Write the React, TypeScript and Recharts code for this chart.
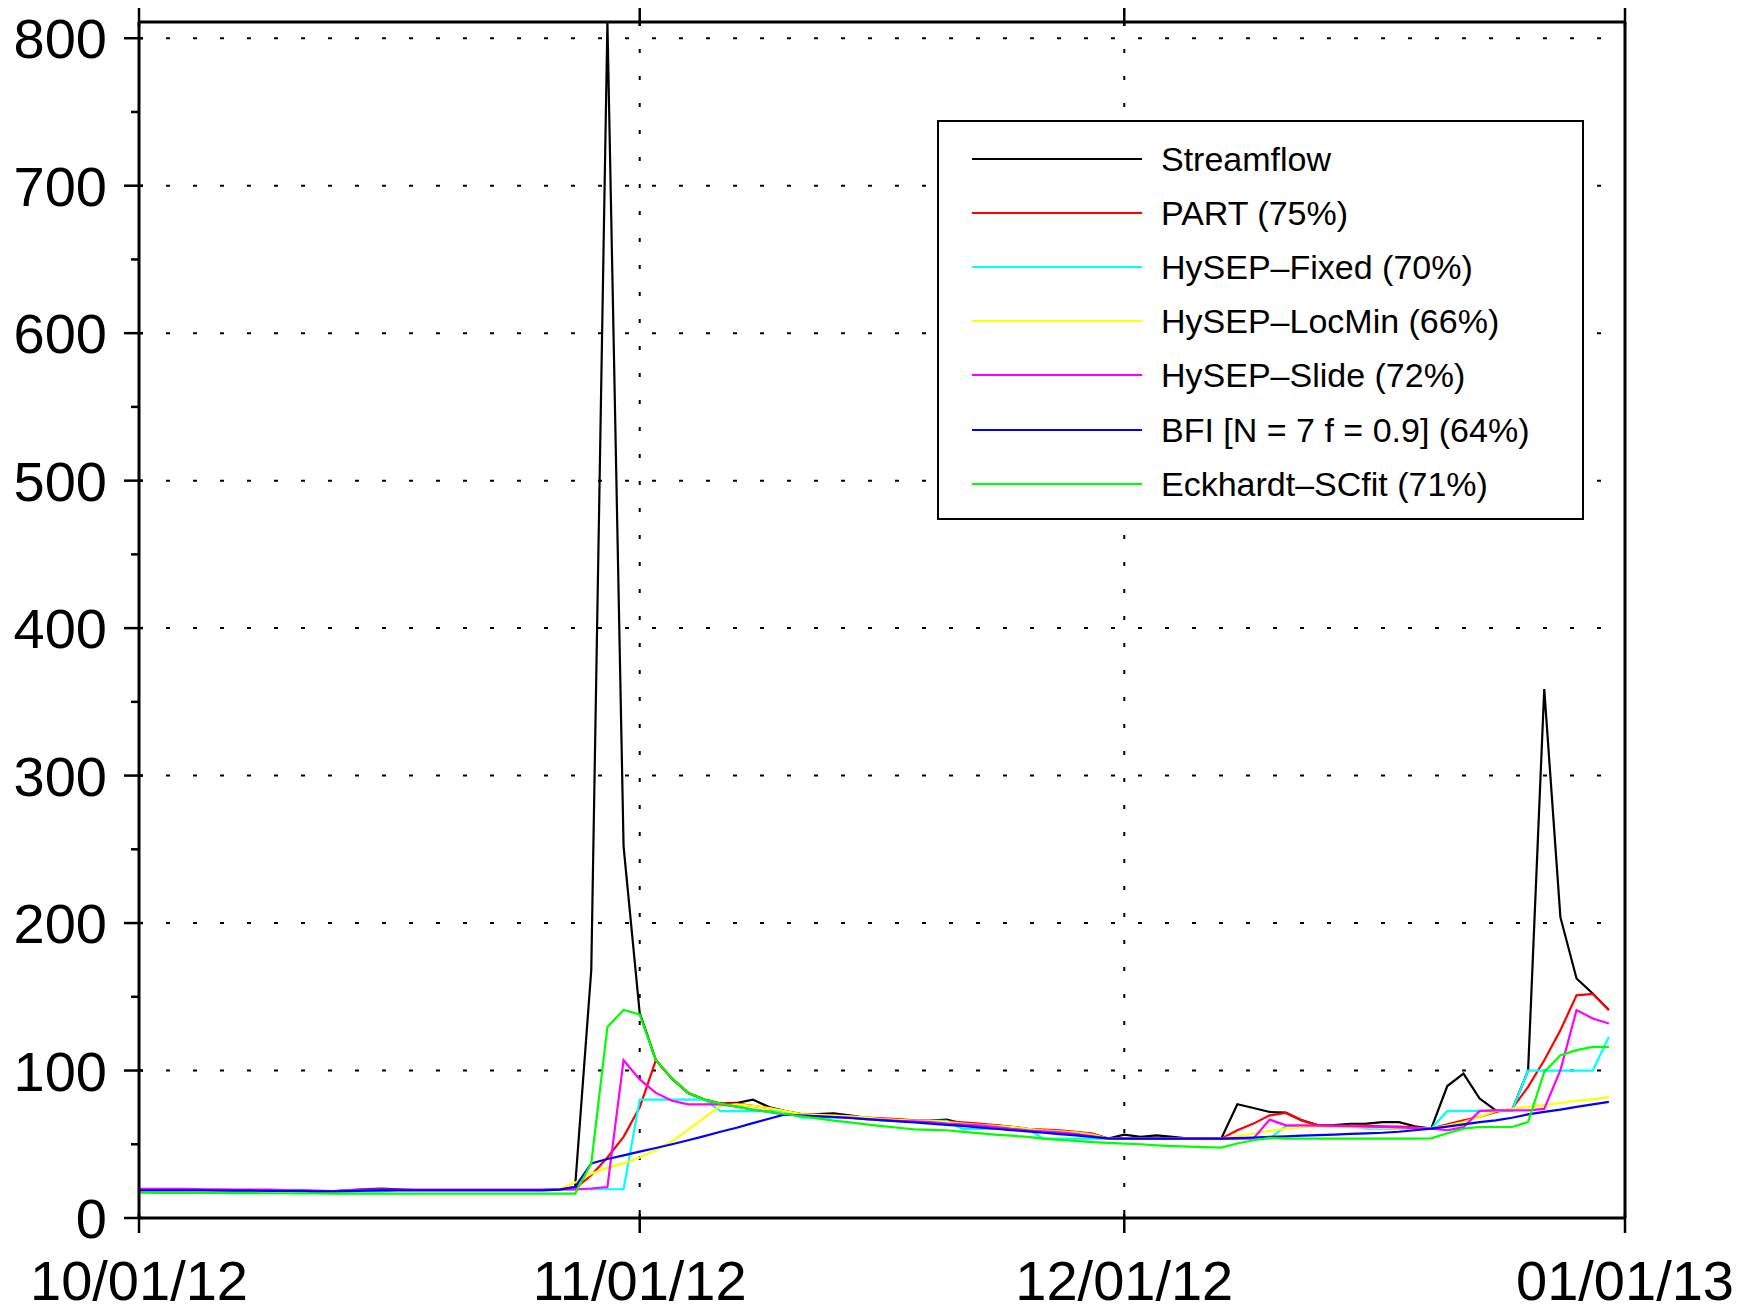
import React from "react";
import {
  CartesianGrid,
  Legend,
  Line,
  LineChart,
  XAxis,
  YAxis,
} from "recharts";

// daily values, 10/01/12 .. 12/31/12 (day 0 .. 91)
const streamflow = [
  19.5, 19.5, 19.5, 19.5, 19, 19, 19, 19, 19, 18.5,
  18.5, 18, 18, 19, 19.5, 20, 19.5, 19, 19, 19,
  19, 19, 19, 19, 19, 19, 19.5, 21, 168, 811,
  252, 139, 107, 94.5, 84.8, 80.3, 77.6, 78, 80.3, 75.3,
  72.5, 70.5, 70.5, 71, 69.6, 68, 67, 66.5, 65.8, 66,
  66.7, 64, 63.2, 62.8, 61.8, 60.5, 59.5, 58.8, 58, 57,
  53.8, 56.5, 55, 56, 55, 53.8, 53.8, 53.8, 77.1, 74.6,
  71.9, 71.4, 66.2, 62.8, 63, 63.9, 64, 65, 65, 62.2,
  60.6, 89.5, 97.9, 81, 73, 73, 100, 358.6, 204, 162.4,
  152.2, 141,
];

const part = [
  19.5, 19.5, 19.5, 19.5, 19, 19, 19, 19, 19, 18.5,
  18.5, 18, 18, 18.5, 19, 19, 19, 19, 19, 19,
  19, 19, 19, 19, 19, 19, 19.5, 20, 29, 41,
  55, 75, 107, 94.5, 84.8, 80.3, 77.6, 77.5, 76, 74.5,
  72.5, 70.5, 70, 69.5, 69, 68, 67.5, 67, 66.3, 66,
  65.5, 64.8, 64, 63, 61.8, 60.5, 60, 59.5, 58.5, 57.2,
  53.8, 53.8, 53.8, 53.8, 53.8, 53.8, 53.8, 53.8, 59.5, 64,
  69.6, 71.2, 66.2, 62.8, 62.5, 62.5, 62.5, 62.2, 62, 61.5,
  60.6, 63.5, 66.2, 68.5, 71.9, 74, 88.9, 107, 127.3, 151,
  152, 141,
];

const hysepFixed = [
  19.5, 19, 19, 19, 19, 19, 18.5, 18.5, 18.5, 18.5,
  18.5, 18, 18, 18, 18, 18, 19, 19, 19, 19,
  19, 19, 19, 19, 19, 19, 19.5, 19.5, 19.5, 19.5,
  19.5, 80.3, 80.3, 80.3, 80.3, 80.3, 72.5, 72.5, 72.5, 72.5,
  72.5, 68, 68, 68, 68, 68, 65.8, 65.8, 65.8, 65.8,
  65.8, 60.5, 60.5, 60.5, 60.5, 60.5, 53.8, 53.8, 53.8, 53.8,
  53.8, 53.8, 53.8, 53.8, 53.8, 53.8, 53.8, 53.8, 53.8, 53.8,
  53.8, 62.3, 62.3, 62.3, 62.3, 62.3, 60.6, 60.6, 60.6, 60.6,
  60.6, 72.6, 72.6, 72.6, 72.6, 72.6, 100, 100, 100, 100,
  100, 122.8,
];

const hysepLocMin = [
  19.5, 19.4, 19.3, 19.2, 19, 19, 19, 18.9, 18.8, 18.5,
  18.3, 18.2, 18, 18.5, 19, 19, 19, 19, 19, 19,
  19, 19, 19, 19, 19, 19, 19.5, 24, 30, 34,
  37, 41, 46, 52, 60, 68, 76, 77, 76, 74.5,
  72.5, 70.5, 70, 69.5, 69, 68, 67, 66.5, 65.8, 65.8,
  65, 64, 63.2, 62.5, 61.8, 60.5, 59.5, 58.8, 58, 56.5,
  53.8, 53.8, 53.8, 53.8, 53.8, 53.8, 53.8, 53.8, 55.5, 57.3,
  59, 60.5, 61.8, 62, 62, 61.8, 61.5, 61.2, 61, 60.8,
  60.6, 62.7, 65, 68.5, 72.6, 74, 75.3, 76.5, 78, 79.5,
  80.5, 82,
];

const hysepSlide = [
  19.8, 19.8, 19.8, 19.8, 19.5, 19.5, 19.3, 19.3, 19.2, 19,
  18.8, 18.5, 18.3, 18.8, 19.3, 19.5, 19.3, 19.2, 19.2, 19.2,
  19.2, 19.2, 19.2, 19.2, 19.2, 19.2, 19.2, 19.4, 20, 21,
  107, 94, 84.8, 79.5, 77.1, 77, 77, 75.5, 73.5, 72,
  70, 69.6, 69, 68.5, 68, 67, 66.5, 65.8, 65.5, 65,
  64, 63.5, 62.8, 61.8, 60.5, 59.5, 58.8, 58, 57, 55.5,
  53.8, 53.8, 53.8, 53.8, 53.8, 53.8, 53.8, 53.8, 53.8, 54,
  66.7, 62.8, 62.8, 62.6, 62.5, 62.3, 62, 61.8, 61.5, 61,
  60.6, 59.5, 61.6, 72.6, 73, 73, 73, 74, 100.2, 141,
  135.3, 131.9,
];

const bfi = [
  18.7, 18.7, 18.7, 18.7, 18.7, 18.6, 18.5, 18.5, 18.4, 18.3,
  18.2, 18, 18, 18.2, 18.5, 18.7, 18.7, 18.7, 18.7, 18.7,
  18.7, 18.7, 18.7, 18.7, 18.7, 18.7, 19.2, 21, 37, 40,
  42.5, 45, 47.5, 50, 52.7, 55.5, 58.5, 61.2, 64.3, 67.3,
  70.3, 69.5, 69, 68.5, 67.8, 67, 66.3, 65.5, 64.8, 64,
  63.2, 62.5, 61.5, 60.5, 59.6, 58.7, 57.8, 56.9, 56, 55,
  54, 53.8, 53.8, 53.8, 53.8, 53.8, 53.8, 53.8, 54.2, 54.6,
  55, 55.4, 55.8, 56.2, 56.6, 57, 57.4, 57.8, 58.5, 59.5,
  60.6, 62, 63.5, 65, 66.2, 68, 70.3, 72, 73.5, 75.3,
  77, 78.7,
];

const eckhardt = [
  17.2, 17.1, 17, 17, 17, 17, 16.9, 16.9, 16.8, 16.8,
  16.7, 16.6, 16.5, 16.5, 16.5, 16.5, 16.5, 16.5, 16.5, 16.5,
  16.5, 16.5, 16.5, 16.5, 16.5, 16.5, 16.5, 16.5, 37, 129.6,
  141, 138, 107, 94.5, 84.8, 80.3, 77.6, 75.5, 73.5, 72,
  70.5, 69, 67.5, 66, 64.8, 63.5, 62.3, 61.2, 60.1, 59.8,
  59.5, 58.4, 57.5, 56.6, 55.8, 55, 53.8, 53, 52.3, 51.5,
  50.9, 50.5, 50, 49.3, 48.8, 48.4, 48, 47.7, 50.5, 52.7,
  54.3, 53.8, 53.8, 53.8, 53.8, 53.8, 53.8, 53.8, 53.8, 53.8,
  54, 57.5, 60.6, 61.7, 61.7, 61.7, 65, 99, 110.4, 113.8,
  116, 116,
];

const xTicks = [0, 31, 61, 92];
const xTickLabels = ["10/01/12", "11/01/12", "12/01/12", "01/01/13"];
const yTicks = [0, 50, 100, 150, 200, 250, 300, 350, 400, 450, 500, 550, 600, 650, 700, 750, 800];
const yGrid = [100, 200, 300, 400, 500, 600, 700, 800];

const series = [
  { key: "streamflow", name: "Streamflow", color: "#000000", values: streamflow },
  { key: "part", name: "PART (75%)", color: "#ff0000", values: part },
  { key: "fixed", name: "HySEP–Fixed (70%)", color: "#00ffff", values: hysepFixed },
  { key: "locmin", name: "HySEP–LocMin (66%)", color: "#ffff00", values: hysepLocMin },
  { key: "slide", name: "HySEP–Slide (72%)", color: "#ff00ff", values: hysepSlide },
  { key: "bfi", name: "BFI [N = 7 f = 0.9] (64%)", color: "#0000ff", values: bfi },
  { key: "eckhardt", name: "Eckhardt–SCfit (71%)", color: "#00ff00", values: eckhardt },
];

const data = streamflow.map((_, i) => {
  const row: Record<string, number> = { day: i };
  series.forEach((s) => {
    row[s.key] = s.values[i];
  });
  return row;
});

const W = 1732;
const H = 1304; // svg is 8px taller than its box so the label descenders are not cut
const PLOT_LEFT = 131;
const PLOT_RIGHT = 1617;
const PLOT_TOP = 14;
const PLOT_BOTTOM = 1210;
const FONT = "'Liberation Sans', Arial, Helvetica, sans-serif";

const LeftTick = (props: any) => {
  const { y, payload } = props;
  const major = payload.value % 100 === 0;
  return (
    <g>
      <line
        x1={PLOT_LEFT - (major ? 15 : 8)}
        x2={PLOT_LEFT + (major ? 4 : 0)}
        y1={y}
        y2={y}
        stroke="#000"
        strokeWidth={2.5}
      />
      {major && (
        <text
          x={PLOT_LEFT - 32}
          y={y + 20}
          textAnchor="end"
          fontSize={56}
          fontFamily={FONT}
          fill="#000"
        >
          {payload.value}
        </text>
      )}
    </g>
  );
};

const RightTick = (props: any) => {
  const { y, payload } = props;
  const major = payload.value % 100 === 0;
  return (
    <line
      x1={PLOT_RIGHT - (major ? 4 : 5)}
      x2={PLOT_RIGHT + (major ? 15 : 0)}
      y1={y}
      y2={y}
      stroke="#000"
      strokeWidth={2.5}
    />
  );
};

const BottomTick = (props: any) => {
  const { x, payload } = props;
  const label = xTickLabels[xTicks.indexOf(payload.value)];
  return (
    <g>
      <line x1={x} x2={x} y1={PLOT_BOTTOM - 4} y2={PLOT_BOTTOM + 15} stroke="#000" strokeWidth={2.5} />
      <text x={x} y={1292} textAnchor="middle" fontSize={56} fontFamily={FONT} fill="#000">
        {label}
      </text>
    </g>
  );
};

const TopTick = (props: any) => {
  const { x } = props;
  return <line x1={x} x2={x} y1={PLOT_TOP - 14} y2={PLOT_TOP + 4} stroke="#000" strokeWidth={2.5} />;
};

// legend drawn in the series order (recharts would sort the payload)
const LegendBox = () => (
  <div
    style={{
      boxSizing: "border-box",
      width: 647,
      height: 400,
      border: "2.5px solid #000",
      background: "#fff",
      paddingTop: 9.5,
    }}
  >
    {series.map((s) => (
      <div key={s.key} style={{ height: 54.2, display: "flex", alignItems: "center" }}>
        <span
          style={{
            display: "inline-block",
            marginLeft: 33,
            width: 170,
            height: 2,
            background: s.color,
          }}
        />
        <span
          style={{
            marginLeft: 19,
            fontSize: 34,
            lineHeight: 1,
            fontFamily: FONT,
            color: "#000",
            whiteSpace: "nowrap",
          }}
        >
          {s.name}
        </span>
      </div>
    ))}
  </div>
);

export default function App() {
  return (
    <div style={{ width: W, height: 1296, background: "#fff", overflow: "visible" }}>
      <LineChart
        width={W}
        height={H}
        data={data}
        margin={{ top: 0, right: 55, bottom: 0, left: 0 }}
      >
        <CartesianGrid
          stroke="#000"
          strokeWidth={2}
          strokeDasharray="4 23"
          horizontalValues={yGrid}
          verticalValues={[31, 61]}
        />
        <XAxis
          dataKey="day"
          type="number"
          domain={[0, 92]}
          ticks={xTicks}
          interval={0}
          height={H - PLOT_BOTTOM}
          tick={BottomTick}
          tickLine={false}
          axisLine={{ stroke: "#000", strokeWidth: 3 }}
        />
        <XAxis
          xAxisId="top"
          orientation="top"
          dataKey="day"
          type="number"
          domain={[0, 92]}
          ticks={xTicks}
          interval={0}
          height={PLOT_TOP}
          tick={TopTick}
          tickLine={false}
          axisLine={{ stroke: "#000", strokeWidth: 3 }}
        />
        <YAxis
          type="number"
          domain={[0, 811]}
          ticks={yTicks}
          interval={0}
          width={PLOT_LEFT}
          tick={LeftTick}
          tickLine={false}
          axisLine={{ stroke: "#000", strokeWidth: 3 }}
        />
        <YAxis
          yAxisId="right"
          orientation="right"
          type="number"
          domain={[0, 811]}
          ticks={yTicks}
          interval={0}
          width={60}
          tick={RightTick}
          tickLine={false}
          axisLine={{ stroke: "#000", strokeWidth: 3 }}
        />
        <Legend
          layout="vertical"
          align="center"
          verticalAlign="middle"
          content={LegendBox}
          wrapperStyle={{ left: 929, top: 112, width: 647, height: 400 }}
        />
        {series.map((s) => (
          <Line
            key={s.key}
            type="linear"
            dataKey={s.key}
            name={s.name}
            stroke={s.color}
            strokeWidth={2.2}
            dot={false}
            activeDot={false}
            isAnimationActive={false}
          />
        ))}
      </LineChart>
    </div>
  );
}
